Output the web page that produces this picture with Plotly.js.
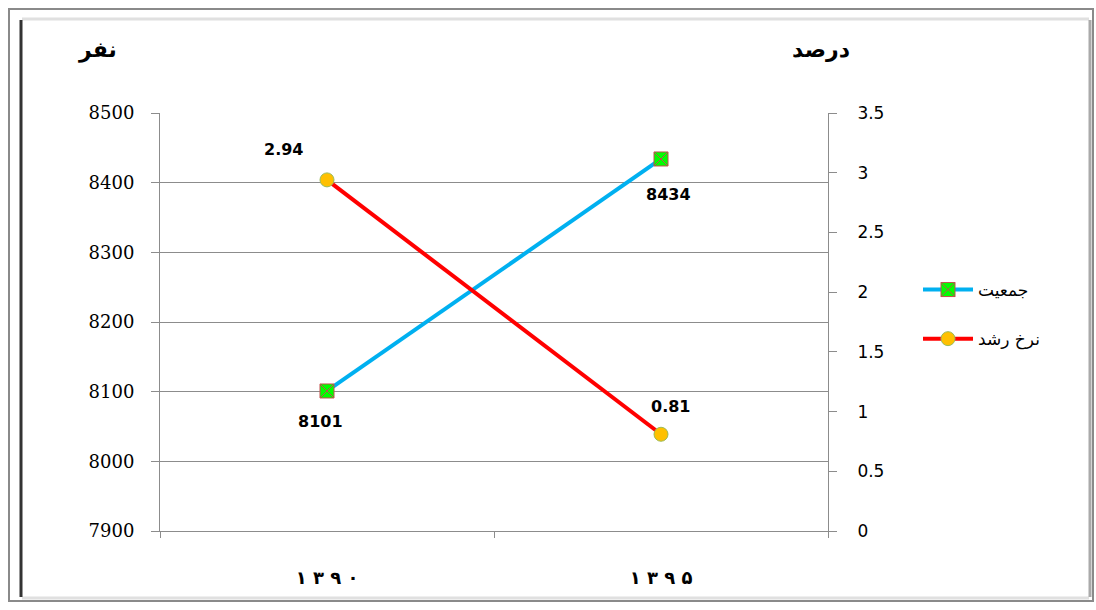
<!DOCTYPE html>
<html>
<head>
<meta charset="utf-8">
<script src="https://cdn.plot.ly/plotly-3.0.1.min.js"></script>
<style>
html,body{margin:0;padding:0;background:#fff;}
#chart{width:1096px;height:610px;}
</style>
</head>
<body>
<div id="chart"></div>
<script>
var years = ['۱۳۹۰', '۱۳۹۵'];
var population = [8101, 8434];
var growthRate = [2.94, 0.81];
var popName = 'جمعیت';
var rateName = 'نرخ رشد';
var leftTitle = 'نفر';
var rightTitle = 'درصد';

var W = 1096, H = 610, L = 160, R = 828, T = 113, B = 531;
function px(x){ return (x - L) / (R - L); }
function py(y){ return (B - y) / (B - T); }

// spaced-out display of the year digits (LRM keeps the digit order left-to-right)
var yearText = years.map(function(s){ return s.split('').join('\u200E '); });

var traces = [
  {
    x: years, y: population, name: popName, type: 'scatter', mode: 'lines+markers',
    yaxis: 'y', legendgroup: 'a',
    line: {color: '#00b0f0', width: 4},
    marker: {symbol: 'square-x', size: 14, color: '#00ff00', line: {color: '#c0504d', width: 1}}
  },
  {
    x: years, y: growthRate, name: rateName, type: 'scatter', mode: 'lines+markers',
    yaxis: 'y2', legendgroup: 'b',
    line: {color: '#ff0000', width: 4},
    marker: {symbol: 'circle', size: 14, color: '#ffc000', line: {color: '#9bbb59', width: 1}}
  }
];

var lblFont = {family: 'DejaVu Sans', size: 16, color: '#000', weight: 'bold'};
var titleFont = {family: 'DejaVu Sans', size: 22, color: '#000'};
var annotations = [
  {x: years[0], y: growthRate[0], yref: 'y2', xref: 'x', text: '<b>' + growthRate[0] + '</b>', showarrow: false, xshift: -44, yshift: 30, font: lblFont},
  {x: years[1], y: growthRate[1], yref: 'y2', xref: 'x', text: '<b>' + growthRate[1] + '</b>', showarrow: false, xshift: 9, yshift: 28, font: lblFont},
  {x: years[0], y: population[0], yref: 'y', xref: 'x', text: '<b>' + population[0] + '</b>', showarrow: false, xshift: -7, yshift: -31, font: lblFont},
  {x: years[1], y: population[1], yref: 'y', xref: 'x', text: '<b>' + population[1] + '</b>', showarrow: false, xshift: 7, yshift: -36, font: lblFont},
  {x: px(97), y: py(50), xref: 'paper', yref: 'paper', xanchor: 'center', yanchor: 'middle', text: '<b>' + leftTitle + '</b>', showarrow: false, font: titleFont},
  {x: px(821), y: py(50), xref: 'paper', yref: 'paper', xanchor: 'center', yanchor: 'middle', text: '<b>' + rightTitle + '</b>', showarrow: false, font: titleFont}
];

var shapes = [
  {type: 'rect', xref: 'paper', yref: 'paper', x0: px(9), x1: px(1093), y0: py(601), y1: py(9), line: {color: '#8a8a8a', width: 2}},
  {type: 'line', xref: 'paper', yref: 'paper', x0: px(22), x1: px(1089), y0: py(19), y1: py(19), line: {color: '#e0e0e0', width: 3}},
  {type: 'line', xref: 'paper', yref: 'paper', x0: px(22), x1: px(1089), y0: py(598), y1: py(598), line: {color: '#e0e0e0', width: 3}},
  {type: 'line', xref: 'paper', yref: 'paper', x0: px(21), x1: px(21), y0: py(20), y1: py(597), line: {color: '#333333', width: 3}},
  {type: 'line', xref: 'paper', yref: 'paper', x0: px(1090), x1: px(1090), y0: py(20), y1: py(597), line: {color: '#aaaaaa', width: 3}}
];

var tickFontL = {family: 'DejaVu Serif', size: 18, color: '#000'};
var tickFontR = {family: 'DejaVu Sans', size: 17, color: '#000'};

var layout = {
  width: W, height: H,
  margin: {l: L, r: W - R, t: T, b: H - B, pad: 0},
  paper_bgcolor: '#fff', plot_bgcolor: '#fff',
  showlegend: true,
  legend: {x: px(918), y: py(272), xanchor: 'left', yanchor: 'top', itemwidth: 50, font: {family: 'DejaVu Sans', size: 17, color: '#000'}, tracegroupgap: 24, bgcolor: 'rgba(0,0,0,0)'},
  xaxis: {
    type: 'category', range: [-0.5, 1.5], showgrid: false, showline: true, linecolor: '#8c8c8c', linewidth: 1,
    ticks: 'outside', ticklen: 6, tickcolor: '#8c8c8c', tickson: 'boundaries', ticklabelstandoff: 30,
    tickmode: 'array', tickvals: years, ticktext: yearText,
    tickfont: {family: 'DejaVu Sans', size: 18, color: '#000', weight: 'bold'}, fixedrange: true
  },
  yaxis: {
    range: [7900, 8500], dtick: 100, tick0: 7900, showgrid: true, gridcolor: '#8c8c8c', gridwidth: 1,
    showline: true, linecolor: '#8c8c8c', ticks: 'outside', ticklen: 8, tickcolor: '#8c8c8c',
    tickfont: tickFontL, zeroline: false, ticklabelstandoff: 13
  },
  yaxis2: {
    range: [0, 3.5], dtick: 0.5, tick0: 0, overlaying: 'y', side: 'right', showgrid: false,
    showline: true, linecolor: '#8c8c8c', ticks: 'outside', ticklen: 8, tickcolor: '#8c8c8c',
    tickfont: tickFontR, zeroline: false, ticklabelstandoff: 17
  },
  annotations: annotations,
  shapes: shapes
};

Plotly.newPlot('chart', traces, layout, {displayModeBar: false, staticPlot: true});
</script>
</body>
</html>
